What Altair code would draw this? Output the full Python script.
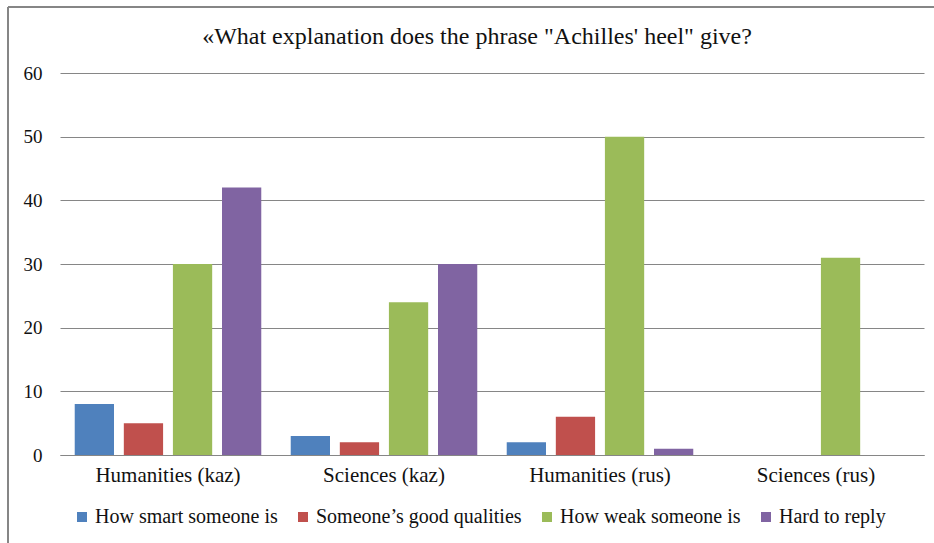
import altair as alt
import pandas as pd

groups = ["Humanities (kaz)", "Sciences (kaz)", "Humanities (rus)", "Sciences (rus)"]
answers = ["How smart someone is", "Someone’s good qualities", "How weak someone is", "Hard to reply"]
smart = [8, 3, 2, 0]
good = [5, 2, 6, 0]
weak = [30, 24, 50, 31]
hard = [42, 30, 1, 0]
colors = ["#4F81BD", "#C0504D", "#9BBB59", "#8064A2"]
y_ticks = [0, 10, 20, 30, 40, 50, 60]

rows = []
for series_name, vals in zip(answers, [smart, good, weak, hard]):
    for g, v in zip(groups, vals):
        rows.append({"group": g, "answer": series_name, "value": v})
df = pd.DataFrame(rows)

FONT = "Times New Roman"
GRAY = "#868686"

bars = alt.Chart(df).mark_bar().encode(
    x=alt.X("group:N", sort=groups, title=None,
            scale=alt.Scale(paddingInner=0, paddingOuter=0),
            axis=alt.Axis(labelAngle=0, ticks=False, domainColor=GRAY, domainWidth=1,
                          labelFont=FONT, labelFontSize=21, labelColor="#111",
                          labelPadding=9, labelLimit=400)),
    xOffset=alt.XOffset("answer:N", sort=answers,
                        scale=alt.Scale(paddingInner=0.2, paddingOuter=0.3)),
    y=alt.Y("value:Q", title=None,
            scale=alt.Scale(domain=[0, 60], nice=False),
            axis=alt.Axis(values=y_ticks, ticks=False, domain=False, gridColor=GRAY,
                          gridWidth=1, labelFont=FONT, labelFontSize=19, labelColor="#111",
                          labelPadding=18)),
    color=alt.Color("answer:N", sort=answers,
                    scale=alt.Scale(domain=answers, range=colors),
                    legend=alt.Legend(title=None, orient="none", legendX=12, legendY=434,
                                      direction="horizontal", symbolType="square",
                                      symbolSize=100, symbolStrokeWidth=0, padding=0,
                                      labelFont=FONT, labelFontSize=20, labelColor="#111",
                                      labelOffset=3, columnPadding=15, labelLimit=400)),
)

frame = alt.Data(values=[{"k": 1}])
left_border = alt.Chart(frame).mark_rule(color=GRAY, strokeWidth=2).encode(
    x=alt.value(-52), y=alt.value(-66), y2=alt.value(520))
top_border = alt.Chart(frame).mark_rule(color=GRAY, strokeWidth=2).encode(
    x=alt.value(-52), x2=alt.value(900), y=alt.value(-66))

chart = alt.layer(bars, left_border, top_border).properties(
    width=864, height=382,
    title=alt.Title("«What explanation does the phrase \"Achilles' heel\" give?",
                    font=FONT, fontSize=24, fontWeight="normal", color="#111",
                    anchor="middle", frame="group", baseline="bottom", offset=-67, dx=-15),
    autosize=alt.AutoSizeParams(type="none"),
    padding={"left": 60, "top": 73, "right": 10, "bottom": 88},
).configure_view(stroke=None)

chart.save("out.html", embed_options={"renderer": "svg", "actions": False})
